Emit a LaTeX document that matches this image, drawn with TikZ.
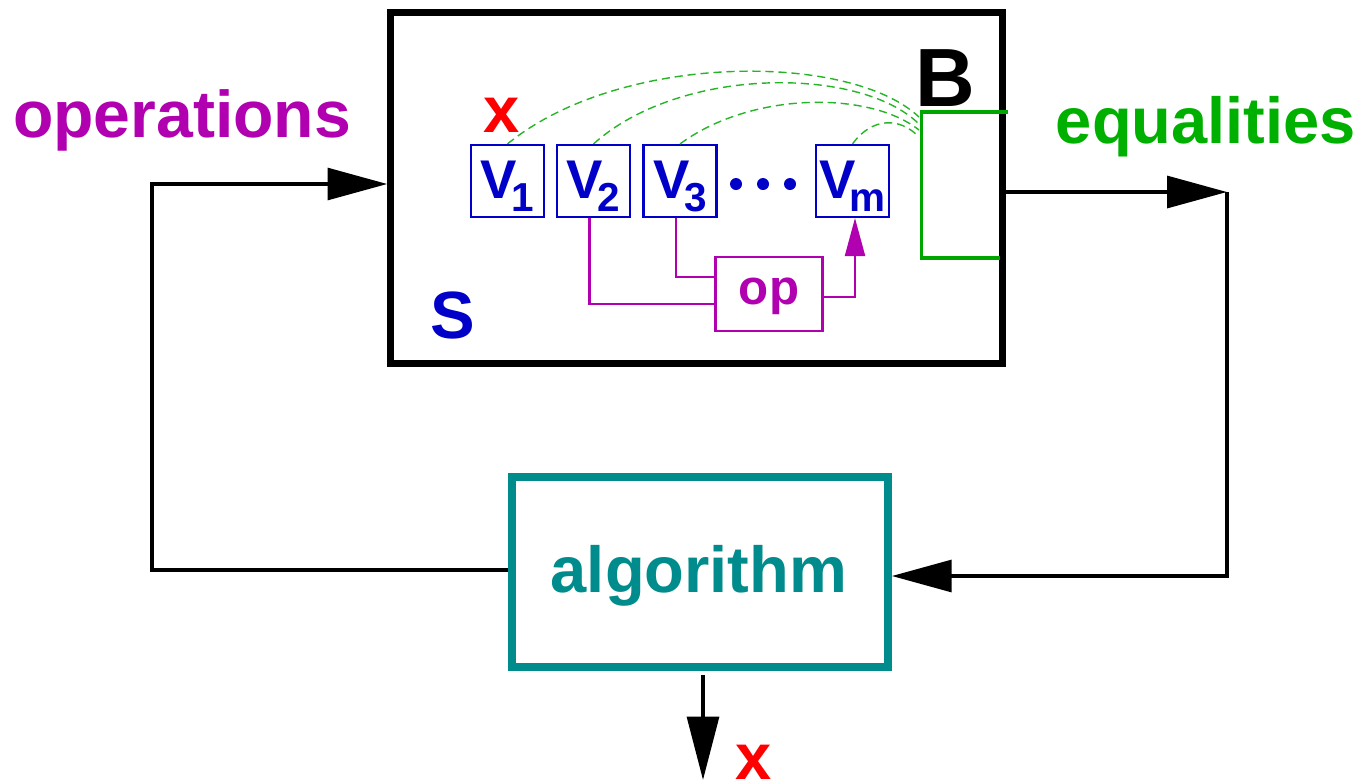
\documentclass[tikz,border=0pt]{standalone}
\usepackage{fontspec}
\setmainfont{Liberation Sans}
\usetikzlibrary{arrows.meta,calc}
\definecolor{cpurple}{RGB}{176,0,176}
\definecolor{cgreen}{RGB}{0,176,0}
\definecolor{cbracket}{RGB}{0,165,0}
\definecolor{cdash}{RGB}{40,180,40}
\definecolor{cblue}{RGB}{0,0,200}
\definecolor{cteal}{RGB}{0,140,140}
\definecolor{cred}{RGB}{255,0,0}
\newcommand\fsz[1]{\fontsize{#1}{#1}\selectfont\bfseries}
\newcommand\vlab[1]{V\kern-1.6pt\raisebox{-3.7pt}{\fsz{11.5}#1}}
\tikzset{
  bigarrow/.style={line width=1.15pt,-{Triangle[length=17pt,width=9pt]}},
  vbox/.style={draw=cblue,line width=0.6pt,inner sep=0pt,minimum width=0.73cm,minimum height=0.72cm,
     text=cblue,font=\fsz{15.5},text height=11.5pt,text depth=1.8pt},
  opbox/.style={draw=cpurple,line width=0.6pt,inner sep=0pt,minimum width=1.07cm,minimum height=0.74cm,
     text=cpurple,font=\fsz{14},text height=7.4pt,text depth=1.2pt},
  purpleline/.style={draw=cpurple,line width=0.6pt},
  eqdash/.style={draw=cdash,line width=0.4pt,dash pattern=on 2.3pt off 1.4pt},
  lbl/.style={inner sep=0pt,anchor=base},
}
\begin{document}
\begin{tikzpicture}[x=0.01cm,y=-0.01cm]
\useasboundingbox (0,0) rectangle (1366,781);
% main box
\node[draw,line width=2pt,inner sep=0pt,minimum width=6.11cm,minimum height=3.5cm] (S) at (696.5,188) {};
% algorithm box
\node[draw=cteal,line width=2.1pt,inner sep=0pt,minimum width=3.76cm,minimum height=1.9cm] (alg) at (700,572) {};
\node[lbl,text=cteal,font=\fsz{18.5}] (algtxt) at (699,592) {algorithm};
% labels
\node[lbl,text=cpurple,font=\fsz{18.8}] (ops) at (182,137) {operations};
\node[lbl,text=cgreen,font=\fsz{18.5}] (eqs) at (1206,143) {equalities};
\node[lbl,text=black,font=\fsz{23.5}] (B) at (945,106) {B};
\node[lbl,text=cblue,font=\fsz{19}] (Slab) at (453,338) {S};
\node[lbl,text=cred,font=\fsz{18.5}] (x1) at (502,132) {x};
\node[lbl,text=cred,font=\fsz{18.5}] (x2) at (754,779) {x};
% variable boxes
\node[vbox] (v1) at (507.5,181) {\vlab{1}};
\node[vbox] (v2) at (593.5,181) {\vlab{2}};
\node[vbox] (v3) at (680,181) {\vlab{3}};
\node[vbox] (vm) at (852.5,181) {\vlab{m}};
\foreach \xx in {736,763,790} \fill[cblue] (\xx,184) circle (6);
% op box
\node[opbox] (op) at (769,294) {op};
\draw[purpleline] ($(v2.south)+(-4,0)$) |- ($(op.west)+(0,10)$);
\draw[purpleline] ($(v3.south)+(-4,0)$) |- ($(op.west)+(0,-17)$);
\draw[purpleline,-{Triangle[length=10.8pt,width=5.7pt]}] ($(op.east)+(0,3)$) -| ($(vm.south)+(2.5,0)$);
% bracket
\coordinate (bt) at (1008,112);
\coordinate (bb) at (1000,258);
\draw[cbracket,line width=1.1pt] (bt) -- (921.5,112) -- (921.5,258) -- (bb);
\coordinate (e1) at (919,117);
\coordinate (e2) at (919,124);
\coordinate (e3) at (919,130);
\coordinate (e4) at (919,137);
\draw[eqdash] (v1.north) .. controls (620,52) and (850,52) .. (e1);
\draw[eqdash] (v2.north) .. controls (680,66) and (860,66) .. (e2);
\draw[eqdash] (v3.north) .. controls (752,91) and (870,91) .. (e3);
\draw[eqdash] (vm.north) .. controls (872,117) and (900,117) .. (e4);
% feedback loop
\coordinate (lc) at (152,570);
\coordinate (rc) at (1227,192);
\draw[bigarrow] ($(alg.west)+(0,-2)$) -| (lc) |- ($(S.west)+(0,-4)$);
\draw[bigarrow] ($(S.east)+(0,4)$) -- (rc);
\draw[bigarrow] (rc) |- ($(alg.east)+(0,4)$);
\coordinate (xo) at (703,780);
\draw[line width=1.15pt,-{Triangle[length=18pt,width=9pt]}] ($(alg.south)+(3,4)$) -- (xo);
\end{tikzpicture}
\end{document}
